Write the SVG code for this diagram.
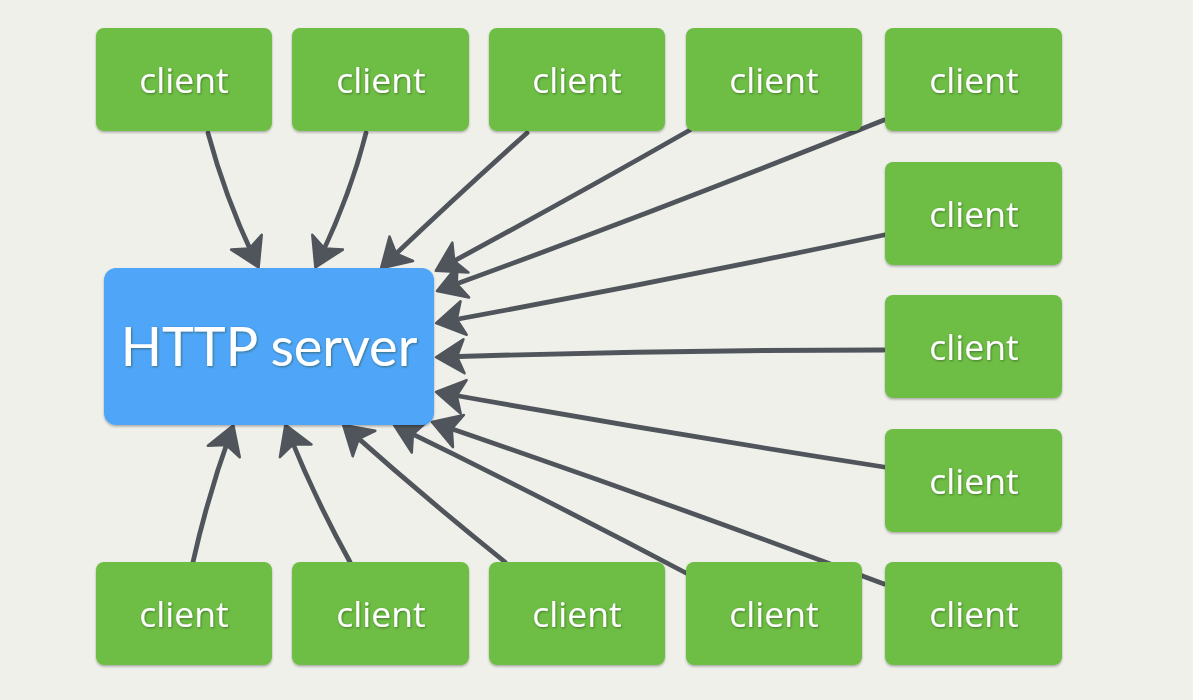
<svg xmlns="http://www.w3.org/2000/svg" width="1193" height="700" viewBox="0 0 1193 700">
<defs>
<style>
.client rect{fill:#6ebe44;filter:url(#boxsh)}
.client text{fill:#ffffff;font-family:"Open Sans","Noto Sans",sans-serif;font-size:35.5px;text-anchor:middle;filter:url(#txtsh)}
.server rect{fill:#4fa6f9;filter:url(#boxsh)}
.server text{fill:#ffffff;font-family:Lato,"Open Sans",sans-serif;font-size:54px;text-anchor:middle;filter:url(#txtsh)}
.edge{fill:none;stroke:#50555c;stroke-width:4.8;stroke-linecap:round;marker-end:url(#ah)}
</style>
<filter id="boxsh" x="-10%" y="-10%" width="120%" height="130%">
<feDropShadow dx="0" dy="1.5" stdDeviation="1" flood-color="#000" flood-opacity="0.3"/>
</filter>
<filter id="txtsh" x="-10%" y="-20%" width="120%" height="140%">
<feDropShadow dx="0.8" dy="1" stdDeviation="0.8" flood-color="#1a3a10" flood-opacity="0.55"/>
</filter>
<marker id="ah" markerUnits="userSpaceOnUse" viewBox="-4 -20 36 40" markerWidth="36" markerHeight="40" refX="22" refY="0" orient="auto" overflow="visible">
<path fill="#50555c" stroke="#50555c" stroke-width="2.5" stroke-linejoin="round" d="M0,-17 L28,0 L0,17 L7,0 Z"/>
</marker>
</defs>
<rect width="1193" height="700" fill="#f0f0eb"/>
<g id="connectors">
<path class="edge" d="M208,133 Q226,200 256,262"/>
<path class="edge" d="M366,133 Q350,196 318,262"/>
<path class="edge" d="M527,133 Q452,200 385.4,264"/>
<path class="edge" d="M690,130 Q562,203 441,268"/>
<path class="edge" d="M884,120 Q660,210 442.6,289"/>
<path class="edge" d="M884,235 Q660,282 442,322"/>
<path class="edge" d="M884,350 Q660,350 442,357"/>
<path class="edge" d="M884,467 Q660,432 442,393"/>
<path class="edge" d="M884,584 Q660,500 437.6,424"/>
<path class="edge" d="M686,573 Q540,496 399.4,427.7"/>
<path class="edge" d="M505,562 Q424,497 347.6,428.9"/>
<path class="edge" d="M350,562 Q314,497 287.6,430.4"/>
<path class="edge" d="M193,562 Q208,495 231.3,430.8"/>
</g>
<g class="server" id="server"><rect x="104" y="268" width="330" height="157" rx="12"/><text x="269" y="366">HTTP server</text></g>
<g class="client" id="client-t1"><rect x="96" y="28" width="176" height="103" rx="8"/><text x="184" y="93">client</text></g>
<g class="client" id="client-t2"><rect x="292" y="28" width="177" height="103" rx="8"/><text x="381" y="93">client</text></g>
<g class="client" id="client-t3"><rect x="489" y="28" width="176" height="103" rx="8"/><text x="577" y="93">client</text></g>
<g class="client" id="client-t4"><rect x="686" y="28" width="176" height="103" rx="8"/><text x="774" y="93">client</text></g>
<g class="client" id="client-t5"><rect x="885" y="28" width="177" height="103" rx="8"/><text x="974" y="93">client</text></g>
<g class="client" id="client-r1"><rect x="885" y="162" width="177" height="103" rx="8"/><text x="974" y="227">client</text></g>
<g class="client" id="client-r2"><rect x="885" y="295" width="177" height="103" rx="8"/><text x="974" y="360">client</text></g>
<g class="client" id="client-r3"><rect x="885" y="429" width="177" height="103" rx="8"/><text x="974" y="494">client</text></g>
<g class="client" id="client-b1"><rect x="96" y="562" width="176" height="103" rx="8"/><text x="184" y="627">client</text></g>
<g class="client" id="client-b2"><rect x="292" y="562" width="177" height="103" rx="8"/><text x="381" y="627">client</text></g>
<g class="client" id="client-b3"><rect x="489" y="562" width="176" height="103" rx="8"/><text x="577" y="627">client</text></g>
<g class="client" id="client-b4"><rect x="686" y="562" width="176" height="103" rx="8"/><text x="774" y="627">client</text></g>
<g class="client" id="client-b5"><rect x="885" y="562" width="177" height="103" rx="8"/><text x="974" y="627">client</text></g>
</svg>
